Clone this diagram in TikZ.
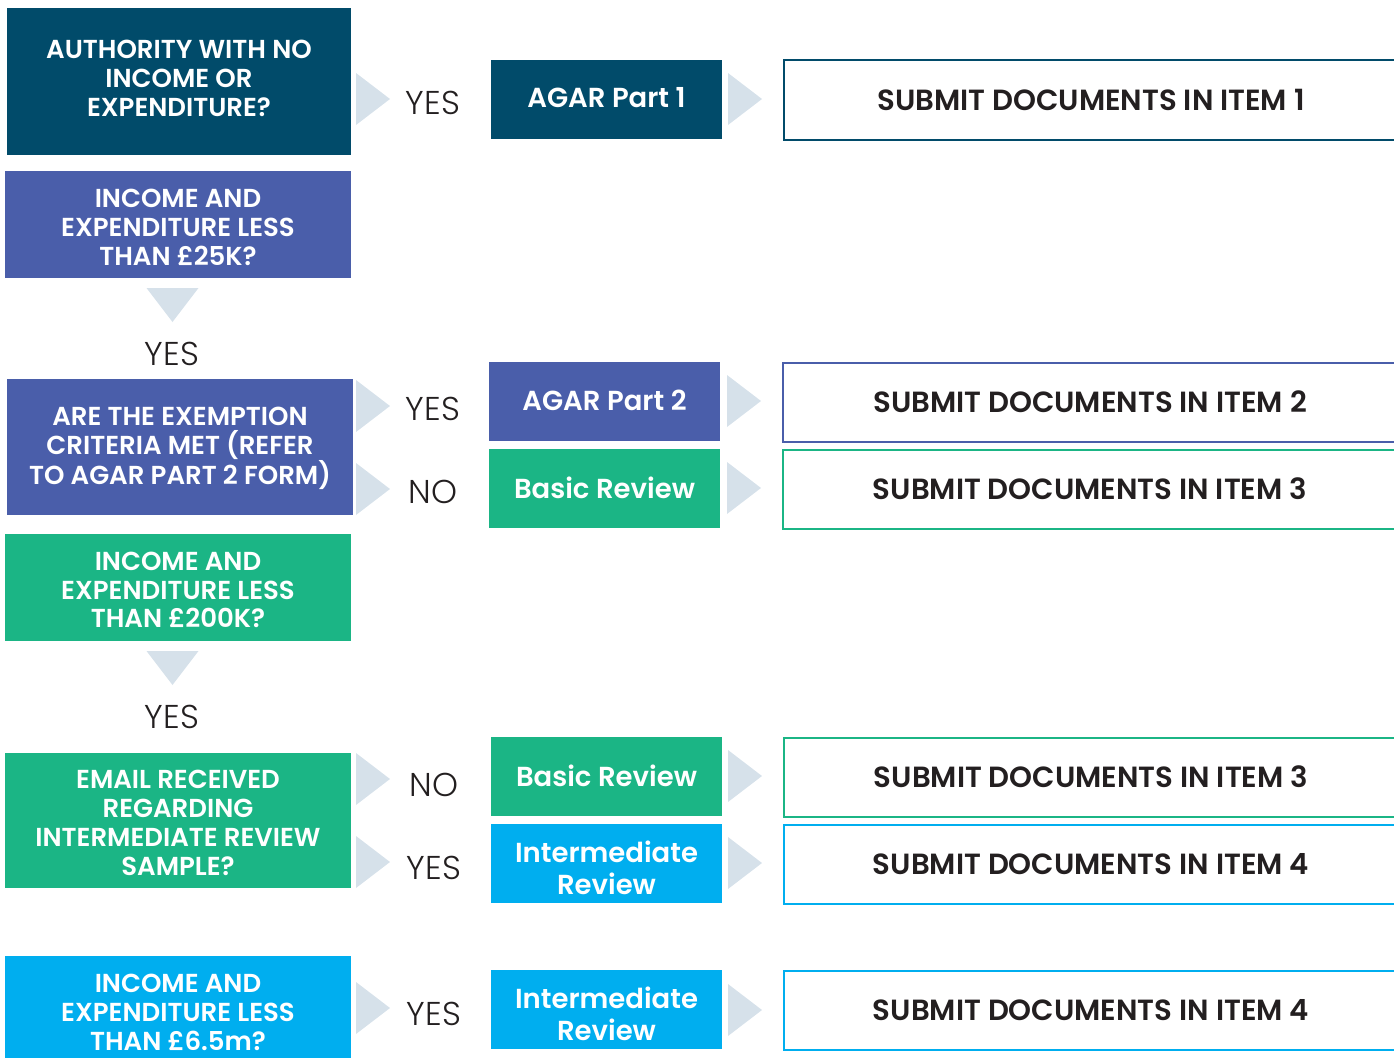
\documentclass[tikz,border=0pt]{standalone}
\usepackage{fontspec}
\setmainfont{Poppins}[BoldFont={Poppins SemiBold}]
\newfontfamily\lightfont{Poppins Light}
\usetikzlibrary{calc}
\definecolor{navy}{RGB}{1,75,106}
\definecolor{purp}{RGB}{74,94,170}
\definecolor{grn}{RGB}{27,181,133}
\definecolor{cyn}{RGB}{0,174,239}
\definecolor{tri}{RGB}{214,225,234}
\definecolor{ink}{RGB}{35,31,32}
\tikzset{
  qbox/.style={rectangle, inner sep=0pt, text=white, align=center,
    font=\fontsize{26}{28.8}\selectfont\bfseries, anchor=center},
  obox/.style={rectangle, inner sep=0pt, text=white, align=center,
    font=\fontsize{27.5}{32}\selectfont\bfseries, anchor=center,
    minimum width=231, minimum height=79},
  sbox/.style={rectangle, inner sep=0pt, draw, line width=2pt, fill=white,
    text=ink, font=\fontsize{29.2}{31}\selectfont\bfseries,
    minimum width=614, minimum height=79, anchor=west},
  ans/.style={text=ink, font=\fontsize{33}{36}\selectfont\lightfont, inner sep=0pt},
}
\newcommand{\rtri}[2]{\fill[tri] (#1,#2-26) -- (#1+34,#2) -- (#1,#2+26) -- cycle;}
\newcommand{\dtri}[2]{\fill[tri] (#1-26,#2) -- (#1+26,#2) -- (#1,#2+34) -- cycle;}
\begin{document}
\begin{tikzpicture}[x=1pt,y=-1pt]
\useasboundingbox (0,0) rectangle (1394,1057);
\clip (0,0) rectangle (1394,1057);
% left questions
\node[qbox, fill=navy, minimum width=344, minimum height=147] (q1) at (179,81.5) {};
\node[qbox] (q1t) at (179,78.5) {AUTHORITY WITH NO\\INCOME OR\\EXPENDITURE?};
\node[qbox, fill=purp, minimum width=346, minimum height=107] (q2) at (178,224.5) {};
\node[qbox] (q2t) at (178,227.5) {INCOME AND\\EXPENDITURE LESS\\THAN £25K?};
\node[qbox, fill=purp, minimum width=346, minimum height=136] (q3) at (180,447) {};
\node[qbox] (q3t) at (180,448.5) {ARE THE EXEMPTION\\CRITERIA MET (REFER\\TO AGAR PART 2 FORM)};
\node[qbox, fill=grn, minimum width=346, minimum height=107] (q4) at (178,587.5) {};
\node[qbox] (q4t) at (178,590) {INCOME AND\\EXPENDITURE LESS\\THAN £200K?};
\node[qbox, fill=grn, minimum width=346, minimum height=135] (q5) at (178,820.5) {};
\node[qbox] (q5t) at (178,823) {EMAIL RECEIVED\\REGARDING\\INTERMEDIATE REVIEW\\SAMPLE?};
\node[qbox, fill=cyn, minimum width=346, minimum height=120, anchor=north] (q6) at (178,956) {};
\node[qbox] (q6t) at (178,1012.5) {INCOME AND\\EXPENDITURE LESS\\THAN £6.5m?};
% down arrows and answers
\dtri{172.5}{288}
\node[ans] (a2) at (172,354) {YES};
\dtri{172.5}{651}
\node[ans] (a4) at (172,717) {YES};
% right arrows from questions
\rtri{356}{99}  \node[ans] (a1) at (433,103) {YES};
\rtri{356}{406} \node[ans] (a3y) at (433,409) {YES};
\rtri{356}{489} \node[ans] (a3n) at (433,492) {NO};
\rtri{356}{779} \node[ans] (a5n) at (434,785) {NO};
\rtri{356}{862} \node[ans] (a5y) at (434,868) {YES};
\rtri{356}{1008} \node[ans] (a6) at (434,1014) {YES};
% outcomes
\node[obox, fill=navy] (o1) at (606.5,99.5) {};
\node[obox] (o1t) at (606.5,98) {AGAR Part 1};
\node[obox, fill=purp] (o2) at (604.5,401.5) {};
\node[obox] (o2t) at (604.5,400) {AGAR Part 2};
\node[obox, fill=grn] (o3) at (604.5,488.5) {};
\node[obox] (o3t) at (604.5,487.5) {Basic Review};
\node[obox, fill=grn] (o4) at (606.5,776.5) {};
\node[obox] (o4t) at (606.5,775.5) {Basic Review};
\node[obox, fill=cyn] (o5) at (606.5,863.5) {};
\node[obox] (o5t) at (606.5,868) {Intermediate\\Review};
\node[obox, fill=cyn] (o6) at (606.5,1009.5) {};
\node[obox] (o6t) at (606.5,1014) {Intermediate\\Review};
% arrows to submit boxes
\rtri{728}{99}
\rtri{727}{401}
\rtri{727}{488}
\rtri{728}{776}
\rtri{728}{863}
\rtri{728}{1010}
% submit boxes
\node[sbox, draw=navy] (s1) at (783,100) {SUBMIT DOCUMENTS IN ITEM 1};
\node[sbox, draw=purp] (s2) at (782,402) {SUBMIT DOCUMENTS IN ITEM 2};
\node[sbox, draw=grn] (s3) at (782,489) {SUBMIT DOCUMENTS IN ITEM 3};
\node[sbox, draw=grn] (s4) at (783,777) {SUBMIT DOCUMENTS IN ITEM 3};
\node[sbox, draw=cyn] (s5) at (783,864) {SUBMIT DOCUMENTS IN ITEM 4};
\node[sbox, draw=cyn] (s6) at (783,1010) {SUBMIT DOCUMENTS IN ITEM 4};
\end{tikzpicture}
\end{document}
